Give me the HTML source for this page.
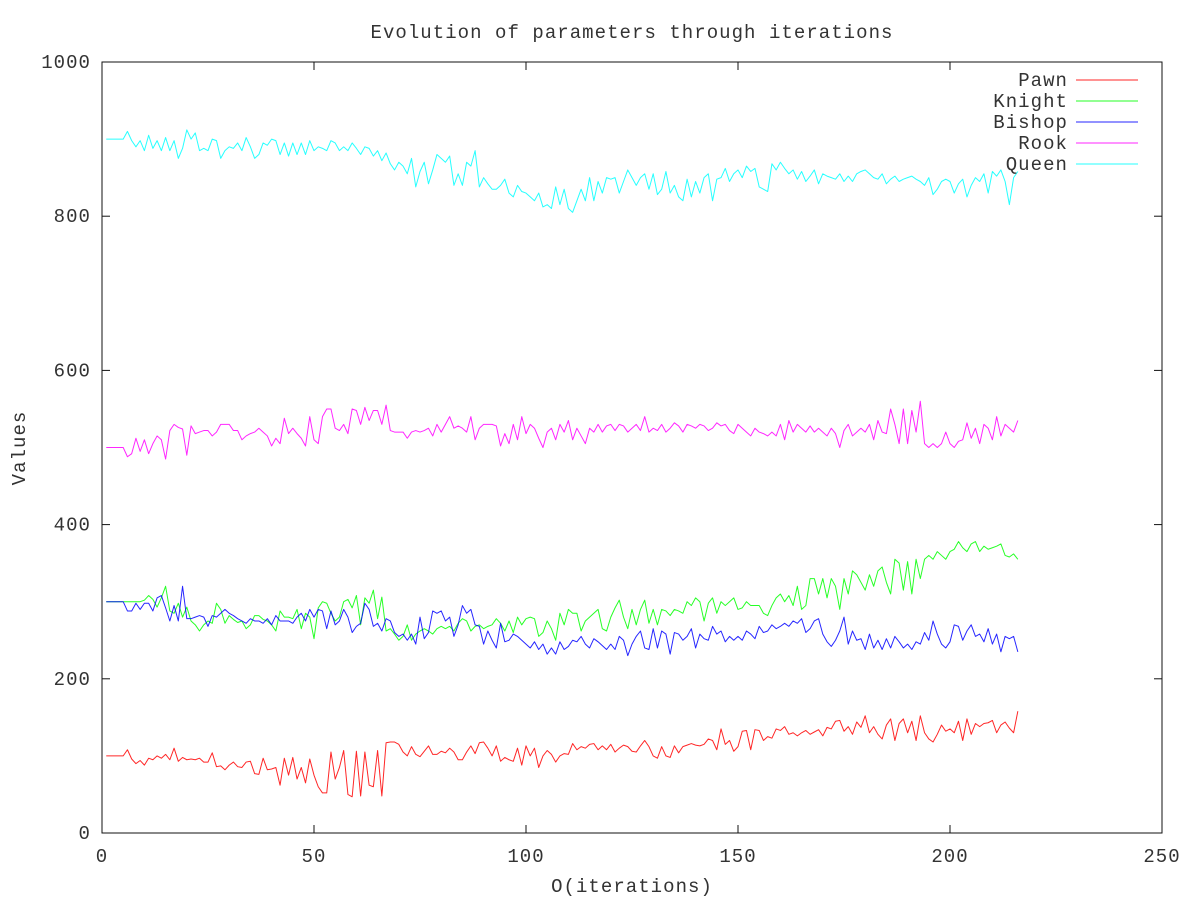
<!DOCTYPE html>
<html><head><meta charset="utf-8"><style>
html,body{margin:0;padding:0;background:#fff;}
svg text{font-family:"Liberation Mono",monospace;font-size:19px;fill:#333;letter-spacing:1.05px;}
</style></head><body>
<svg id="chart" width="1200" height="900" xmlns="http://www.w3.org/2000/svg">
<rect width="1200" height="900" fill="#fff"/>
<text x="632" y="38" text-anchor="middle">Evolution of parameters through iterations</text>
<text x="632" y="892" text-anchor="middle">O(iterations)</text>
<text x="0" y="0" text-anchor="middle" transform="translate(25,448) rotate(-90)">Values</text>
<g id="axes"></g>
<g id="series"></g>
<g id="legend"></g>
<rect x="102" y="62" width="1060" height="771" fill="none" stroke="#111" stroke-width="1"/>
</svg>
<script>
const xTicks=[0,50,100,150,200,250];
const yTicks=[0,200,400,600,800,1000];
const seriesNames=["Pawn","Knight","Bishop","Rook","Queen"];
const seriesColors=["#ff0000","#00ff00","#0000ff","#ff00ff","#00ffff"];
const pawn=[100,100,100,100,100,108,96,90,94,88,97,95,100,97,102,95,110,93,98,95,96,95,97,92,92,104,86,87,82,88,92,86,85,92,93,77,76,97,82,83,85,62,97,75,98,70,85,65,96,75,60,52,52,105,70,85,107,50,47,106,48,105,62,60,107,48,117,118,118,115,105,100,112,102,99,106,113,102,102,106,104,110,105,95,95,105,113,103,117,118,110,100,113,93,98,95,93,110,88,113,100,110,85,100,107,102,92,100,103,102,116,108,112,110,115,116,108,113,108,115,105,110,114,112,106,105,113,120,112,100,97,112,100,98,113,104,112,114,116,114,113,115,122,120,108,135,115,120,106,112,132,133,108,134,133,120,125,123,135,133,138,128,130,126,130,133,128,131,134,126,137,135,145,146,132,138,128,144,137,152,130,138,128,122,140,148,120,142,148,130,145,120,152,130,122,118,128,140,132,135,130,145,120,148,128,142,138,142,143,146,130,140,144,136,130,158];
const knight=[300,300,300,300,300,300,300,300,300,302,308,303,293,305,320,288,285,298,280,293,275,270,262,270,275,272,298,290,272,282,277,273,275,265,270,282,282,277,275,270,262,288,280,280,278,290,265,285,280,252,292,300,298,285,275,280,300,303,292,308,270,305,298,315,278,306,262,265,258,250,255,270,250,258,262,265,262,258,265,268,265,268,262,272,278,275,262,268,270,265,268,270,278,272,262,275,260,280,270,278,280,278,255,260,275,265,250,285,270,290,285,285,262,275,280,285,290,265,262,280,292,302,280,265,290,270,290,302,272,290,270,290,288,282,290,288,285,300,295,305,300,275,298,305,285,300,295,300,305,290,292,300,295,295,295,285,282,295,305,310,300,308,295,320,290,295,330,330,310,330,305,330,320,290,330,310,340,335,325,315,335,320,340,345,325,310,355,350,315,352,310,355,330,355,360,355,365,360,355,365,368,378,370,365,375,378,365,372,368,370,372,375,360,358,362,355];
const bishop=[300,300,300,300,300,288,288,298,290,298,298,288,305,308,292,275,295,275,320,278,278,280,282,280,268,282,280,285,290,285,282,278,275,272,278,275,275,272,278,270,282,275,275,275,272,280,285,275,290,280,290,288,265,288,270,275,290,280,260,268,272,298,290,268,272,262,278,275,260,255,258,250,258,245,280,252,260,288,285,288,275,280,255,270,295,285,290,270,268,245,262,250,240,272,248,250,258,255,250,245,240,248,238,245,232,240,232,248,238,242,250,248,255,245,240,252,248,243,238,245,238,255,250,230,245,255,262,240,238,265,240,262,258,232,260,258,250,255,265,240,258,252,250,268,258,262,248,255,250,255,250,262,258,252,268,260,262,270,265,268,272,268,275,272,278,260,265,275,278,258,248,242,250,262,280,245,262,250,252,238,258,240,250,238,252,240,255,248,240,245,238,248,245,260,250,275,258,245,240,248,270,268,250,262,270,255,258,248,265,245,258,235,255,252,255,235];
const rook=[500,500,500,500,500,488,492,512,495,510,492,505,515,510,485,522,530,526,524,490,528,518,520,522,522,515,520,530,530,530,522,522,510,515,518,520,525,520,515,502,512,505,538,518,525,518,512,502,540,510,505,540,550,550,525,522,530,518,550,548,530,552,535,548,548,530,555,522,520,520,520,512,520,522,520,522,525,515,530,520,530,540,525,528,525,520,540,510,525,530,530,530,528,502,518,505,530,510,540,518,530,525,512,500,520,525,510,530,520,535,510,525,515,505,525,520,530,520,528,530,522,530,528,520,525,530,522,540,520,525,522,530,520,525,532,528,520,530,528,525,530,528,522,525,532,528,530,522,518,530,525,520,515,525,520,518,515,520,515,530,510,535,520,530,525,520,528,520,525,520,515,525,518,500,522,530,515,520,525,520,530,510,535,520,518,550,530,505,550,505,548,520,560,505,500,505,500,505,520,505,500,508,510,532,512,525,505,530,525,510,540,515,530,525,520,535];
const queen=[900,900,900,900,900,910,898,890,898,885,905,888,898,885,902,885,898,875,888,912,900,908,885,888,885,900,898,875,885,890,888,895,885,902,890,875,880,895,892,900,898,880,895,878,895,880,895,880,898,885,890,888,885,898,895,885,890,885,895,888,880,890,888,878,885,872,882,868,860,870,865,855,875,838,858,870,842,860,880,875,870,878,840,855,840,870,865,885,838,850,842,835,835,840,848,830,825,840,832,830,825,820,830,812,815,810,838,815,835,810,805,820,835,820,850,820,845,830,850,848,850,830,845,860,850,840,850,855,835,855,828,835,858,830,840,825,820,848,825,845,830,850,855,820,848,850,862,845,855,860,850,865,858,862,838,835,832,868,860,870,862,855,860,848,858,845,852,860,842,855,852,850,848,855,845,852,845,855,858,860,855,850,848,855,842,848,852,845,848,850,852,848,845,840,850,828,835,845,848,845,830,842,848,825,840,850,845,855,830,858,852,860,845,815,850,858];
const allSeries=[pawn,knight,bishop,rook,queen];

const NS="http://www.w3.org/2000/svg";
const X0=102,X1=1162,Y0=833,Y1=62;
function xs(v){return X0+(v-0)/(250-0)*(X1-X0);}
function ys(v){return Y0-(v-0)/(1000-0)*(Y0-Y1);}
function mk(tag,attrs,parent){const e=document.createElementNS(NS,tag);for(const k in attrs)e.setAttribute(k,attrs[k]);parent.appendChild(e);return e;}
const axes=document.getElementById('axes');
xTicks.forEach(t=>{
  const x=xs(t);
  const a=mk('line',{x1:x,x2:x,y1:Y0,y2:Y0-8,stroke:'#111'},axes);
  
  
  const b=mk('line',{x1:x,x2:x,y1:Y1,y2:Y1+8,stroke:'#111'},axes);
  
  
  const tx=mk('text',{x:x,y:862,'text-anchor':'middle'},axes);
  tx.textContent=t;
  
  
});
yTicks.forEach(t=>{
  const y=ys(t);
  const a=mk('line',{x1:X0,x2:X0+8,y1:y,y2:y,stroke:'#111'},axes);
  
  
  const b=mk('line',{x1:X1,x2:X1-8,y1:y,y2:y,stroke:'#111'},axes);
  
  
  const tx=mk('text',{x:91,y:y+6,'text-anchor':'end'},axes);
  tx.textContent=t;
  
  
});
const sg=document.getElementById('series');
const lg=document.getElementById('legend');
allSeries.forEach((arr,i)=>{
  const pts=arr.map((v,j)=>xs(j+1).toFixed(2)+','+ys(v).toFixed(2)).join(' ');
  const pl=mk('polyline',{points:pts,fill:'none',stroke:seriesColors[i],'stroke-width':1,'stroke-opacity':0.85,'stroke-linejoin':'round'},sg);
  
  
  const ly=80+i*21;
  const lt=mk('text',{x:1068,y:ly+6,'text-anchor':'end'},lg);
  lt.textContent=seriesNames[i];
  
  
  const ll=mk('line',{x1:1076,x2:1138,y1:ly,y2:ly,stroke:seriesColors[i],'stroke-width':1,'stroke-opacity':0.85},lg);
  
  
});
</script>
</body></html>
